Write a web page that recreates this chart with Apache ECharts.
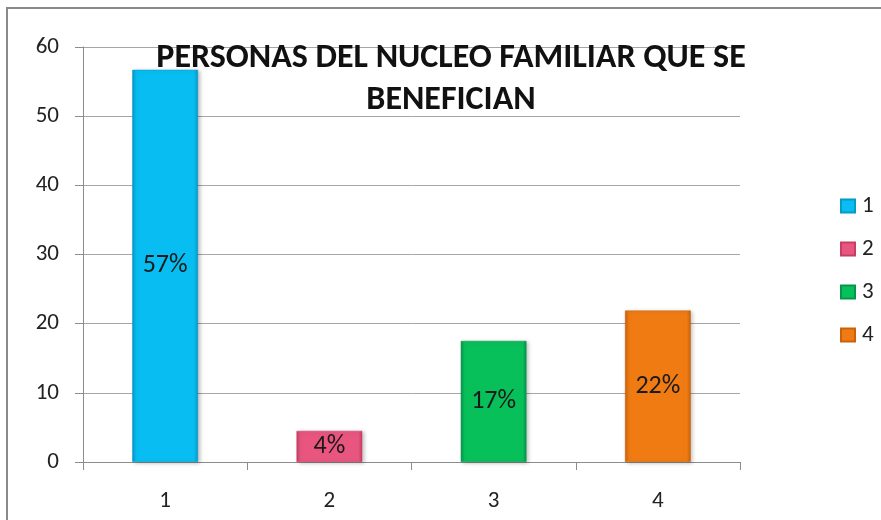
<!DOCTYPE html>
<html><head><meta charset="utf-8">
<script src="https://cdn.jsdelivr.net/npm/echarts@6/dist/echarts.min.js"></script>
<style>html,body{margin:0;padding:0;background:#fff}#c{width:881px;height:520px}</style>
</head><body><div id="c"></div>
<script>
var categories = ['1', '2', '3', '4'];
var seriesNames = ['1', '2', '3', '4'];
var values = [56.7, 4.5, 17.5, 21.9];
var percentLabels = ['57%', '4%', '17%', '22%'];
var yTicks = [0, 10, 20, 30, 40, 50, 60];
var titleLines = ['PERSONAS DEL NUCLEO FAMILIAR QUE SE', 'BENEFICIAN'];
var colors = [
  ['#3fd3ff', '#08bdf2', '#0599c7'],
  ['#f27ea0', '#e8567f', '#c73d63'],
  ['#2fd97a', '#08c05a', '#05954a'],
  ['#f89a40', '#f07b13', '#c9620b']
];

var font = 'Calibri, Carlito, "Liberation Sans Narrow", "Open Sans", sans-serif';
var chart = echarts.init(document.getElementById('c'));

var series = seriesNames.map(function (name, i) {
  var data = categories.map(function (c, j) { return j === i ? values[i] : '-'; });
  return {
    name: name,
    type: 'bar',
    stack: 'all',
    barWidth: '40%',
    data: data,
    itemStyle: {
      color: new echarts.graphic.LinearGradient(0, 0, 1, 0, [
        { offset: 0, color: colors[i][2] },
        { offset: 0.06, color: colors[i][1] },
        { offset: 0.94, color: colors[i][1] },
        { offset: 1, color: colors[i][2] }
      ]),
      borderColor: colors[i][2],
      borderWidth: 0.5,
      shadowColor: 'rgba(0,0,0,0.25)',
      shadowBlur: 4,
      shadowOffsetX: 2,
      shadowOffsetY: 1
    },
    label: {
      show: true,
      position: 'inside',
      color: '#1a1a1a',
      fontFamily: font,
      fontSize: 26,
      formatter: function () { return percentLabels[i]; }
    }
  };
});

chart.setOption({
  animation: false,
  color: colors.map(function (c) { return c[1]; }),
  title: {
    text: titleLines.join('\n'),
    left: 446,
    textAlign: 'center',
    top: 32,
    textStyle: { fontFamily: font, fontWeight: 'bold', fontSize: 34, lineHeight: 42, color: '#111' }
  },
  legend: {
    orient: 'vertical',
    left: 835,
    top: 189,
    itemWidth: 14,
    itemHeight: 13,
    itemGap: 19,
    icon: 'rect',
    data: seriesNames,
    textStyle: { fontFamily: font, fontSize: 23, lineHeight: 24, color: '#222', padding: [0, 0, 0, 2] }
  },
  grid: { left: 83, right: 141, top: 47, bottom: 58, containLabel: false },
  xAxis: {
    type: 'category',
    data: categories,
    axisLine: { lineStyle: { color: '#8c8c8c' } },
    axisTick: { show: true, length: 8, lineStyle: { color: '#8c8c8c' } },
    axisLabel: { margin: 28, fontFamily: font, fontSize: 23, color: '#222' }
  },
  yAxis: {
    type: 'value',
    min: yTicks[0],
    max: yTicks[yTicks.length - 1],
    interval: yTicks[1] - yTicks[0],
    axisLine: { show: true, lineStyle: { color: '#8c8c8c' } },
    axisTick: { show: true, length: 8, lineStyle: { color: '#8c8c8c' } },
    splitLine: { lineStyle: { color: '#a6a6a6' } },
    axisLabel: { margin: 24, fontFamily: font, fontSize: 23, color: '#222' }
  },
  graphic: [{
    type: 'rect',
    shape: { x: 7, y: 8, width: 1000, height: 1000 },
    style: { fill: 'none', stroke: '#8a8a8a', lineWidth: 2 },
    z: 100
  }],
  series: series
});
</script></body></html>
